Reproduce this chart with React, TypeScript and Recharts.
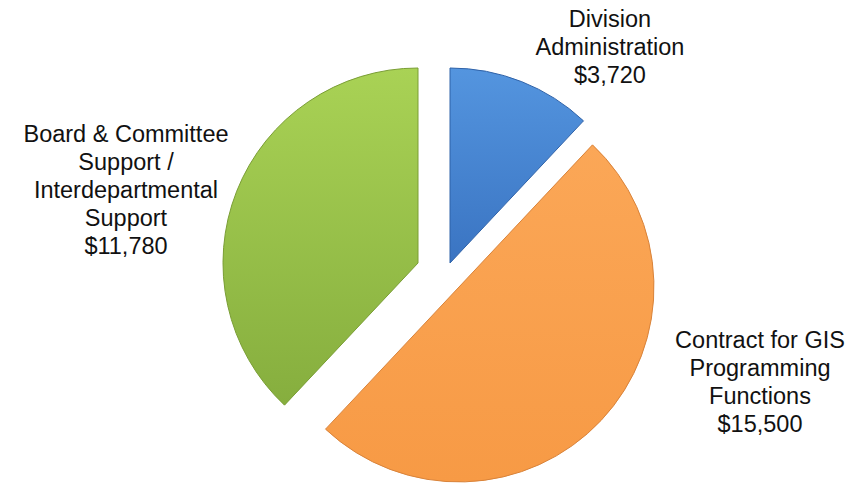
import React from 'react'
import { PieChart, Pie, Cell } from 'recharts'

// budget split, clockwise from 12 o'clock
const categories = [
  'Division Administration',
  'Contract for GIS Programming Functions',
  'Board & Committee Support / Interdepartmental Support',
]
const amounts = [3720, 15500, 11780]
const labelLines = [
  ['Division', 'Administration', '$3,720'],
  ['Contract for GIS', 'Programming', 'Functions', '$15,500'],
  ['Board & Committee', 'Support /', 'Interdepartmental', 'Support', '$11,780'],
]

const data = categories.map((name, i) => ({ name, value: amounts[i] }))

const FILLS = ['url(#gBlue)', 'url(#gOrange)', 'url(#gGreen)']
const STROKES = ['#2f62a8', '#d9833a', '#7a9e35']

// each slice is pulled out of the pie: centre of its own Pie
const SLICE_CENTERS = [
  { cx: 450, cy: 263 },
  { cx: 459, cy: 287 },
  { cx: 418, cy: 263 },
]
// centre x and first baseline of each label block
const LABEL_POS = [
  { x: 610, y: 27 },
  { x: 760, y: 348 },
  { x: 126, y: 142 },
]
const LINE_H = 28
const RADIUS = 195

export default function App() {
  const makeLabel = (slice: number) => (props: any) => {
    if (props.index !== slice) return null
    const pos = LABEL_POS[slice]
    return (
      <text
        key={`lbl-${slice}`}
        x={pos.x}
        y={pos.y}
        textAnchor="middle"
        fill="#111"
        fontSize={23.5}
        fontFamily="'Liberation Sans', Arial, sans-serif"
      >
        {labelLines[slice].map((line, j) => (
          <tspan key={j} x={pos.x} y={pos.y + j * LINE_H}>
            {line}
          </tspan>
        ))}
      </text>
    )
  }

  return (
    <div style={{ width: 856, height: 487, background: '#fff' }}>
      <style>{'body{margin:0}'}</style>
      <PieChart width={856} height={487} margin={{ top: 0, right: 0, bottom: 0, left: 0 }}>
        <defs>
          <linearGradient id="gBlue" x1="0" y1="0" x2="0" y2="1">
            <stop offset="0%" stopColor="#5495df" />
            <stop offset="100%" stopColor="#3a74c2" />
          </linearGradient>
          <linearGradient id="gOrange" x1="0" y1="0" x2="0" y2="1">
            <stop offset="0%" stopColor="#fba757" />
            <stop offset="100%" stopColor="#f79a45" />
          </linearGradient>
          <linearGradient id="gGreen" x1="0" y1="0" x2="0" y2="1">
            <stop offset="0%" stopColor="#a9d255" />
            <stop offset="100%" stopColor="#86ae3e" />
          </linearGradient>
        </defs>
        {SLICE_CENTERS.map((c, s) => (
          <Pie
            key={s}
            data={data}
            dataKey="value"
            nameKey="name"
            cx={c.cx}
            cy={c.cy}
            outerRadius={RADIUS}
            startAngle={90}
            endAngle={-270}
            labelLine={false}
            label={makeLabel(s)}
            isAnimationActive={false}
          >
            {data.map((d, i) => (
              <Cell
                key={`cell-${s}-${i}`}
                fill={i === s ? FILLS[i] : 'transparent'}
                stroke={i === s ? STROKES[i] : 'none'}
                strokeWidth={1}
              />
            ))}
          </Pie>
        ))}
      </PieChart>
    </div>
  )
}
